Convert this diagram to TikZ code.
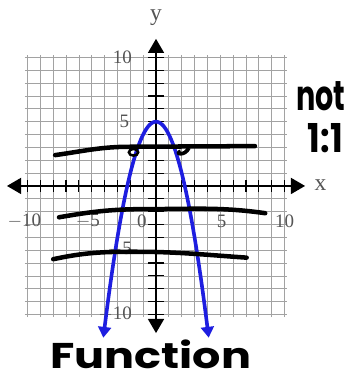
\documentclass[tikz,border=0pt]{standalone}
\usepackage{fontspec}
\setmainfont{Liberation Serif}
\newfontfamily\handfont{Poppins}
\usetikzlibrary{arrows.meta}
\definecolor{gridgray}{HTML}{A2A2A2}
\definecolor{labelgray}{HTML}{555555}
\definecolor{curveblue}{HTML}{1E1EE0}
\tikzset{
  gridline/.style={draw=gridgray, line width=0.85pt},
  axisline/.style={draw=black, line width=2pt, {Triangle[length=0.55cm,width=0.62cm]}-{Triangle[length=0.55cm,width=0.62cm]}},
  tickmark/.style={draw=black, line width=1.3pt},
  numlabel/.style={text=labelgray, font=\fontsize{21}{21}\selectfont, inner sep=1pt},
  varlabel/.style={text=labelgray, font=\fontsize{26}{26}\selectfont, inner sep=0pt},
  curve/.style={draw=curveblue, line width=4pt, {Triangle[length=0.42cm,width=0.5cm]}-{Triangle[length=0.42cm,width=0.5cm]}},
  pen/.style={draw=black, line width=5pt, line cap=round, line join=round},
  pensmall/.style={draw=black, line width=2.8pt},
  handtext/.style={text=black, font=\handfont\bfseries\fontsize{44}{44}\selectfont, inner sep=0pt}
}
\begin{document}
\begin{tikzpicture}[x=0.5cm, y=0.5cm]
  \clip (-12.14,-15.10) rectangle (15.02,14.47);
  \fill[white] (-12.14,-15.10) rectangle (15.02,14.47);

  % grid
  \draw[gridline, step=1] (-10.2,-10.2) grid (10.2,10.2);

  % axes
  \draw[axisline] (-11.6,0) -- (11.6,0);
  \draw[axisline] (0,-11.45) -- (0,11.45);
  \foreach \t in {-10,...,-1,1,2,...,10} {
    \draw[tickmark] (\t,-0.45) -- (\t,0.45);
    \draw[tickmark] (-0.6,\t) -- (0.6,\t);
  }

  % axis labels
  \node[varlabel] (ylab) at (0,13.1) {y};
  \node[varlabel] (xlab) at (12.8,0.1) {x};
  \node[numlabel, anchor=east] (y10) at (-1.8,10) {10};
  \node[numlabel, anchor=east] (y5) at (-2.0,5) {5};
  \node[numlabel, anchor=east] (ym5) at (-1.8,-4.9) {$-$5};
  \node[numlabel, anchor=east] (ym10) at (-1.8,-10) {$-$10};
  \node[numlabel] (xm10) at (-10.25,-2.75) {$-$10};
  \node[numlabel] (xm5) at (-5.3,-2.75) {$-$5};
  \node[numlabel] (x0) at (-1.1,-2.75) {0};
  \node[numlabel] (x5) at (5.1,-2.75) {5};
  \node[numlabel] (x10) at (10.0,-2.75) {10};

  % parabola
  \draw[curve] plot[domain=-4.1:4.1, samples=80, smooth] (\x,{5-\x*\x});

  % hand-drawn lines
  \draw[pen] (-7.85,2.4) to[out=8,in=180] (-2,3.05) -- (7.7,3.1);
  \draw[pensmall] (-1.75,2.62) ellipse[x radius=0.36, y radius=0.26];
  \fill[black] (1.7,2.75) .. controls (1.3,2.3) and (2.3,2.1) .. (2.7,2.9) -- (2.4,3.0) .. controls (2.1,2.5) and (1.8,2.6) .. (1.9,2.85) -- cycle;
  \draw[pen] (-7.55,-2.44) to[out=10,in=180] (-0.5,-1.8) to[out=0,in=172] (8.5,-2.12);
  \draw[pen] (-8.0,-5.7) to[out=12,in=180] (-1.8,-5.12) to[out=0,in=176] (7.05,-5.58);

  % handwritten notes
  \node[handtext, anchor=base west] (nottext) at (10.9,5.85) {\scalebox{0.72}[1.05]{not}};
  \node[handtext, anchor=base west] (ratio) at (11.8,2.6) {\scalebox{0.85}[1]{1:1}};
  \node[handtext, anchor=base] (functext) at (-0.4,-14.2) {\scalebox{1.12}[0.9]{Function}};
\end{tikzpicture}
\end{document}
